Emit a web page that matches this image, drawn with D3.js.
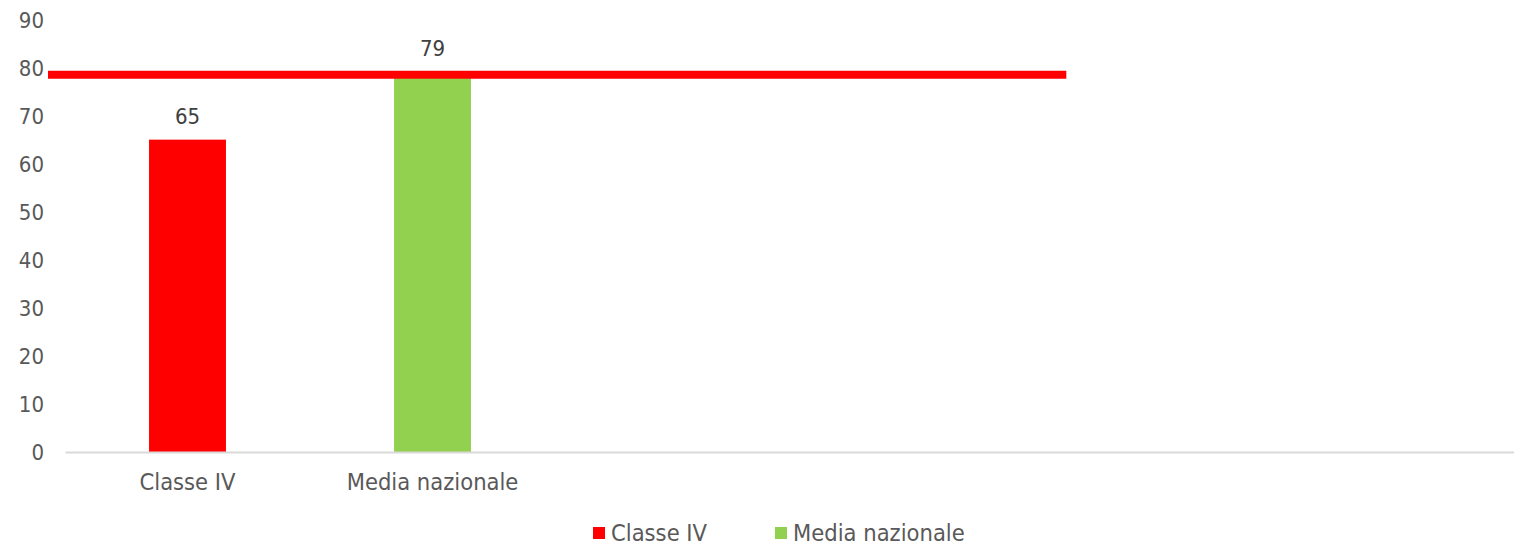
<!DOCTYPE html>
<html>
<head>
<meta charset="utf-8">
<script src="https://cdn.jsdelivr.net/npm/d3@7"></script>
<style>
  html, body { margin: 0; padding: 0; background: #fff; }
  svg { display: block; }
  text { font-family: "DejaVu Sans Condensed", "DejaVu Sans", sans-serif; }
</style>
</head>
<body>
<svg id="chart" width="1514" height="548"></svg>
<script>
// ---- data ----
const categories = ["Classe IV", "Media nazionale", "", " ", "  ", "   "];
const seriesNames = ["Classe IV", "Media nazionale"];
const seriesValues = [65, 79];
const seriesColors = ["#ff0000", "#92d050"];
const yTicks = [0, 10, 20, 30, 40, 50, 60, 70, 80, 90];
const refLineValue = 78.5;

// ---- layout ----
const W = 1514, H = 548;
const plotLeft = 65, plotRight = 1535, plotTop = 19.5, plotBottom = 452;

const svg = d3.select("#chart");

const x = d3.scaleBand().domain(categories).range([plotLeft, plotRight]).paddingInner(0.686).paddingOuter(0.343);
const y = d3.scaleLinear().domain([0, 90]).range([plotBottom, plotTop]);

// y tick labels
const yAxis = d3.axisLeft(y).tickValues(yTicks).tickSize(0).tickPadding(0);
const yg = svg.append("g").attr("transform", `translate(${44},0)`).call(yAxis);
yg.select(".domain").remove();
yg.selectAll("text").attr("fill", "#595959").style("font-size", "22px")
  .style("font-family", "'DejaVu Sans Condensed', sans-serif").attr("dy", "0.35em");

// bars
const barData = seriesNames.map((n, i) => ({ cat: categories[i], value: seriesValues[i], color: seriesColors[i] }));
svg.append("g").selectAll("rect").data(barData).join("rect")
  .attr("x", d => x(d.cat))
  .attr("y", d => y(d.value))
  .attr("width", x.bandwidth())
  .attr("height", d => y(0) - y(d.value))
  .attr("fill", d => d.color);

// x axis line
const xAxis = d3.axisBottom(x).tickSize(0).tickPadding(0);
const xg = svg.append("g").attr("transform", `translate(0,${plotBottom})`).call(xAxis);
xg.select(".domain").attr("stroke", "#d9d9d9").attr("stroke-width", 2);
xg.selectAll("text").attr("fill", "#595959").style("font-size", "23.5px")
  .style("font-family", "'DejaVu Sans Condensed', sans-serif").attr("y", 38).attr("dy", 0);

// reference line
const step = x.step();
svg.append("line")
  .attr("x1", plotLeft - 17)
  .attr("x2", x(categories[0]) + x.bandwidth() / 2 + step * 3.587)
  .attr("y1", y(refLineValue)).attr("y2", y(refLineValue))
  .attr("stroke", "#ff0000").attr("stroke-width", 8);

// data labels
svg.append("g").selectAll("text").data(barData).join("text")
  .attr("x", d => x(d.cat) + x.bandwidth() / 2)
  .attr("y", d => y(d.value) - 16)
  .attr("text-anchor", "middle")
  .attr("fill", "#404040")
  .style("font-size", "22px")
  .text(d => d.value);

// legend
const legend = svg.append("g").attr("transform", `translate(593,533)`);
const legendOffsets = [0, 182];
seriesNames.forEach((n, i) => {
  const g = legend.append("g").attr("transform", `translate(${legendOffsets[i]},0)`);
  g.append("rect").attr("x", 0).attr("y", -6).attr("width", 12).attr("height", 12).attr("fill", seriesColors[i]);
  g.append("text").attr("x", 18).attr("y", 0).attr("dy", "0.35em")
    .attr("fill", "#595959").style("font-size", "23.5px").text(n);
});
</script>
</body>
</html>
